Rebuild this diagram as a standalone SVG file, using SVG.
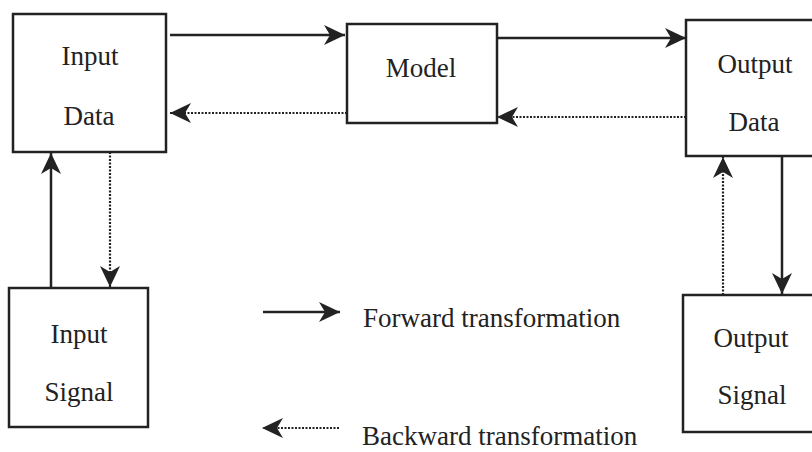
<svg xmlns="http://www.w3.org/2000/svg" width="812" height="452" viewBox="0 0 812 452">
<style>
.box{fill:#fff;stroke:#222;stroke-width:2.5}
.t{font-family:"Liberation Serif","Times New Roman",serif;font-size:27px;fill:#222}
.c{text-anchor:middle}
.solid{stroke:#222;stroke-width:2.5;fill:none;marker-end:url(#ah)}
.dot{stroke:#222;stroke-width:2.2;stroke-dasharray:2 1.5;fill:none;marker-end:url(#ah)}
</style>
<defs>
<marker id="ah" viewBox="0 -11 22 22" refX="21" refY="0" markerWidth="22" markerHeight="22" markerUnits="userSpaceOnUse" orient="auto">
<path d="M0,-10 L21,0 L0,10 L6,0 Z" fill="#222"/>
</marker>
</defs>
<rect width="812" height="452" fill="#fff"/>
<g id="connectors">
<line class="solid" x1="170" y1="35" x2="345" y2="35"/>
<line class="dot" x1="347" y1="113" x2="170" y2="113"/>
<line class="solid" x1="497" y1="38" x2="686" y2="38"/>
<line class="dot" x1="686" y1="117" x2="497" y2="117"/>
<line class="solid" x1="51" y1="288" x2="51" y2="153"/>
<line class="dot" x1="110" y1="152" x2="110" y2="287"/>
<line class="dot" x1="723" y1="295" x2="723" y2="157"/>
<line class="solid" x1="782" y1="156" x2="782" y2="294"/>
</g>
<g id="input-data">
<rect class="box" x="13" y="14" width="153" height="138"/>
<text class="t c" x="90" y="65">Input</text>
<text class="t c" x="89" y="125">Data</text>
</g>
<g id="model">
<rect class="box" x="347" y="24" width="150" height="99"/>
<text class="t c" x="421" y="77">Model</text>
</g>
<g id="output-data">
<rect class="box" x="686" y="20" width="140" height="136"/>
<text class="t c" x="755" y="73">Output</text>
<text class="t c" x="754" y="131">Data</text>
</g>
<g id="input-signal">
<rect class="box" x="9" y="288" width="139" height="139"/>
<text class="t c" x="79" y="343">Input</text>
<text class="t c" x="79" y="401">Signal</text>
</g>
<g id="output-signal">
<rect class="box" x="683" y="295" width="140" height="137"/>
<text class="t c" x="751" y="347">Output</text>
<text class="t c" x="752" y="404">Signal</text>
</g>
<g id="legend">
<line class="solid" x1="263" y1="312" x2="340" y2="312"/>
<text class="t" x="363" y="327">Forward transformation</text>
<line class="dot" x1="339" y1="428" x2="262" y2="428"/>
<text class="t" x="362" y="445">Backward transformation</text>
</g>
</svg>
